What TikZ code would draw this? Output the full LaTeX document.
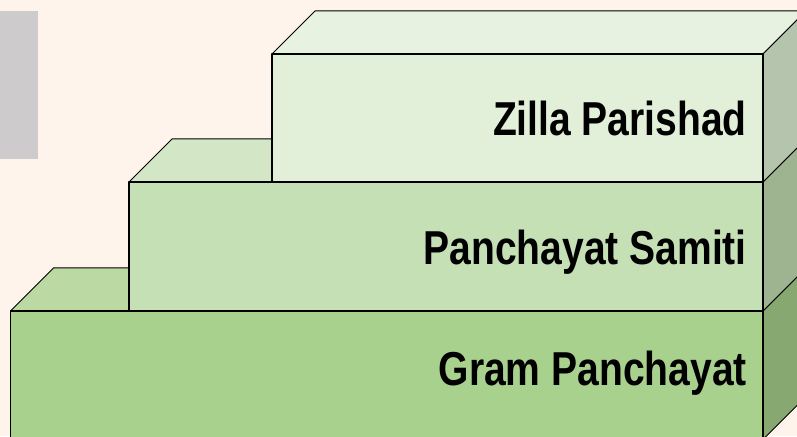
\documentclass[tikz,border=0pt]{standalone}
\usepackage{fontspec}
\newfontfamily\tierfont[FakeStretch=0.82]{Liberation Sans}
\definecolor{bgcream}{HTML}{FFF4EC}
\definecolor{sidebar}{HTML}{CDCBCC}
\definecolor{zillafront}{HTML}{E2EFD9}
\definecolor{zillatop}{HTML}{E8F2E1}
\definecolor{zillaside}{HTML}{B5C4AD}
\definecolor{samitifront}{HTML}{C5E0B4}
\definecolor{samititop}{HTML}{D3E6C6}
\definecolor{samitiside}{HTML}{9EB491}
\definecolor{gramfront}{HTML}{A9D18E}
\definecolor{gramtop}{HTML}{BAD9A3}
\definecolor{gramside}{HTML}{87A870}

\begin{document}
\begin{tikzpicture}[x=1pt,y=1pt,line join=round,
    face/.style={draw=black,line width=1pt},
    front/.style={draw=black,line width=1.5pt},
    tier/.style={font=\tierfont\bfseries\fontsize{47.6}{50}\selectfont,anchor=base east,inner sep=0pt}]
        \useasboundingbox (0,0) rectangle (797,436);
        \clip (0,0) rectangle (797,436);
        \fill[bgcream] (0,0) rectangle (797,436);
        \fill[sidebar] (0,277) rectangle (38,425);

        % Gram Panchayat
        \filldraw[face,fill=gramtop] (10.5,125) -- ++(43,43) -- (806,168) -- (763,125) -- cycle;
        \filldraw[face,fill=gramside] (763,125) -- (806,168) -- (806,39.5) -- (763,-3.5) -- cycle;
        \filldraw[front,fill=gramfront] (10.5,-3.5) rectangle (763,125);
        \node[tier] (gram) at (747,50) {Gram Panchayat};

        % Panchayat Samiti
        \filldraw[face,fill=samititop] (129,254) -- ++(43,43) -- (806,297) -- (763,254) -- cycle;
        \filldraw[face,fill=samitiside] (763,254) -- (806,297) -- (806,168) -- (763,125) -- cycle;
        \filldraw[front,fill=samitifront] (129,125) rectangle (763,254);
        \node[tier] (samiti) at (747,171) {Panchayat Samiti};

        % Zilla Parishad
        \filldraw[face,fill=zillatop] (272,382) -- ++(43,43) -- (806,425) -- (763,382) -- cycle;
        \filldraw[face,fill=zillaside] (763,382) -- (806,425) -- (806,297) -- (763,254) -- cycle;
        \filldraw[front,fill=zillafront] (272,254) rectangle (763,382);
        \node[tier] (zilla) at (747,300) {Zilla Parishad};
    \end{tikzpicture}
\end{document}
